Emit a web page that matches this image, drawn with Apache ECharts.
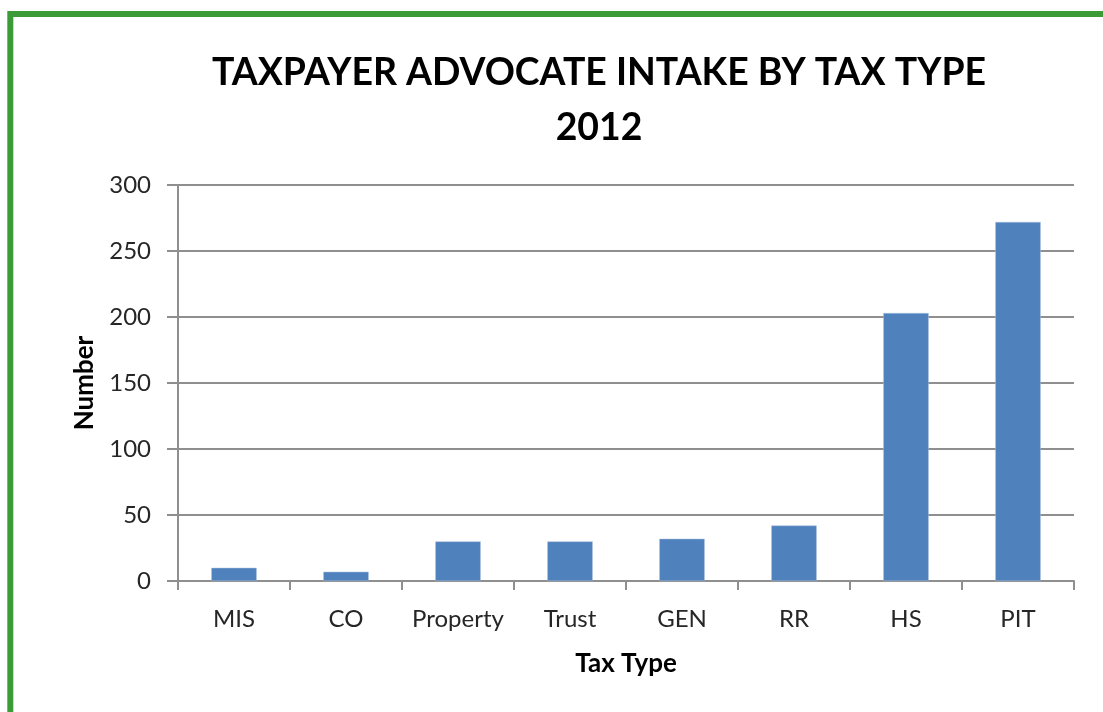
<!DOCTYPE html>
<html>
<head>
<meta charset="utf-8">
<script src="https://cdn.jsdelivr.net/npm/echarts@6/dist/echarts.min.js"></script>
<style>
html,body{margin:0;padding:0;background:#fff;}
#chart{width:1103px;height:712px;}
</style>
</head>
<body>
<div id="chart"></div>
<script>
const categories = ['MIS', 'CO', 'Property', 'Trust', 'GEN', 'RR', 'HS', 'PIT'];
const values = [10, 7, 30, 30, 32, 42, 203, 272];
const yTicks = { min: 0, max: 300, interval: 50 };
const titleLines = ['TAXPAYER ADVOCATE INTAKE BY TAX TYPE', '2012'];

const chart = echarts.init(document.getElementById('chart'), null, { renderer: 'canvas' });
const gridColor = '#8f8f8f';
chart.setOption({
  animation: false,
  backgroundColor: '#ffffff',
  graphic: [{
    type: 'rect',
    shape: { x: 10.3, y: 14, width: 1300, height: 900 },
    style: { fill: 'none', stroke: '#3a9b37', lineWidth: 6 },
    silent: true
  }],
  title: {
    text: titleLines.join('\n'),
    left: 594,
    top: 40,
    textAlign: 'center',
    textStyle: {
      fontFamily: 'Lato',
      fontWeight: 'bold',
      fontSize: 37.4,
      lineHeight: 55,
      color: '#000000'
    }
  },
  grid: { left: 178, right: 29, top: 185, bottom: 131, containLabel: false },
  xAxis: {
    type: 'category',
    data: categories,
    name: 'Tax Type',
    nameLocation: 'middle',
    nameGap: 70,
    nameTextStyle: { fontFamily: 'Lato', fontWeight: 'bold', fontSize: 26, color: '#000' },
    axisLine: { lineStyle: { color: gridColor, width: 2 } },
    axisTick: { show: true, length: 9, lineStyle: { color: gridColor, width: 2 } },
    axisLabel: { fontFamily: 'Lato', fontSize: 24, color: '#262626', margin: 26, interval: 0 }
  },
  yAxis: {
    type: 'value',
    min: yTicks.min,
    max: yTicks.max,
    interval: yTicks.interval,
    name: 'Number',
    nameLocation: 'middle',
    nameRotate: 90,
    nameGap: 80,
    nameTextStyle: { fontFamily: 'Lato', fontWeight: 'bold', fontSize: 26, color: '#000' },
    axisLine: { show: true, lineStyle: { color: gridColor, width: 2 } },
    axisTick: { show: true, length: 11, lineStyle: { color: gridColor, width: 2 } },
    axisLabel: { fontFamily: 'Lato', fontSize: 24, color: '#262626', margin: 27 },
    splitLine: { show: true, lineStyle: { color: gridColor, width: 2 } }
  },
  series: [{
    type: 'bar',
    data: values,
    barWidth: '40.5%',
    itemStyle: { color: '#4f81bd', borderColor: '#a9c1e0', borderWidth: 0.5 }
  }]
});
</script>
</body>
</html>
